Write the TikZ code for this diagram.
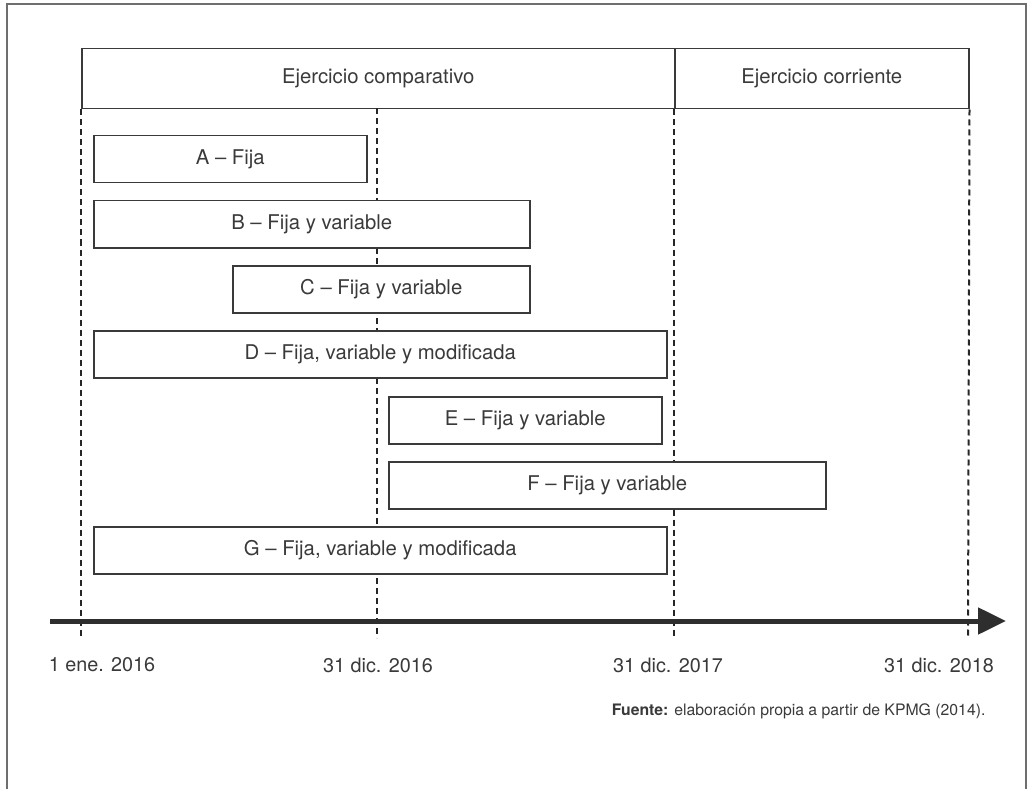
\documentclass[tikz,border=0pt]{standalone}
\usepackage{fontspec}
\setmainfont{TeX Gyre Heros}
\definecolor{frameGray}{HTML}{6E6E6E}
\definecolor{lineDark}{HTML}{3A3A3A}
\definecolor{textDark}{HTML}{3A3A3A}
\usetikzlibrary{arrows.meta, positioning}

\begin{document}
\begin{tikzpicture}[
    x=1pt, y=-1pt,
    bar/.style={rectangle, draw=lineDark, fill=white, line width=1.5pt, anchor=north west, minimum height=47pt, inner sep=0pt, font=\fontsize{20.3}{24}\selectfont, text=textDark},
    hdr/.style={rectangle, draw=lineDark, line width=1.5pt, anchor=north west, minimum height=60pt, inner sep=0pt, font=\fontsize{20.3}{24}\selectfont, text=textDark},
    guide/.style={black!85, line width=2pt, dash pattern=on 6pt off 4pt},
    tick/.style={font=\fontsize{19.8}{24}\selectfont, text=textDark},
]
\useasboundingbox (0,0) rectangle (1029,789);

% outer frame (open at the bottom)
\draw[frameGray, line width=2pt] (7,789) -- (7,4) -- (1026,4) -- (1026,789);

% header
\node[hdr, minimum width=593pt] (comp) at (81,48) {Ejercicio comparativo};
\node[hdr, minimum width=294pt] (corr) at (674,48) {Ejercicio corriente};

% guide lines
\coordinate (g1) at (81,638);
\coordinate (g2top) at (377,108);
\coordinate (g2) at (377,638);
\coordinate (g3) at (674,638);
\coordinate (g4) at (968,638);
\draw[guide] (comp.south west) -- (g1);
\draw[guide] (g2top) -- (g2);
\draw[guide] (corr.south west) -- (g3);
\draw[guide] (corr.south east) -- (g4);

% period bars
\node[bar, minimum width=273pt] (barA) at (93,135) {A -- Fija};
\node[bar, minimum width=436pt] (barB) at (93,200) {B -- Fija y variable};
\node[bar, minimum width=297pt] (barC) at (232,265) {C -- Fija y variable};
\node[bar, minimum width=573pt] (barD) at (93,330) {D -- Fija, variable y modificada};
\node[bar, minimum width=273pt] (barE) at (388,396) {E -- Fija y variable};
\node[bar, minimum width=437pt] (barF) at (388,461) {F -- Fija y variable};
\node[bar, minimum width=573pt] (barG) at (93,526) {G -- Fija, variable y modificada};

% time axis
\coordinate (ax0) at (50,621);
\coordinate (ax1) at (1006,621);
\draw[lineDark!80!black, line width=5pt, -{Triangle[length=28pt, width=26pt]}] (ax0) -- (ax1);

% dates
\node[tick] (d1) at (102,665) {1 ene. 2016};
\node[tick] (d2) at (378,665) {31 dic. 2016};
\node[tick] (d3) at (668,665) {31 dic. 2017};
\node[tick] (d4) at (939,665) {31 dic. 2018};

% source
\node[anchor=east, font=\fontsize{15.8}{19}\selectfont, text=textDark] (src) at (989,711) {\textbf{Fuente:} elaboración propia a partir de KPMG (2014).};
\end{tikzpicture}
\end{document}
